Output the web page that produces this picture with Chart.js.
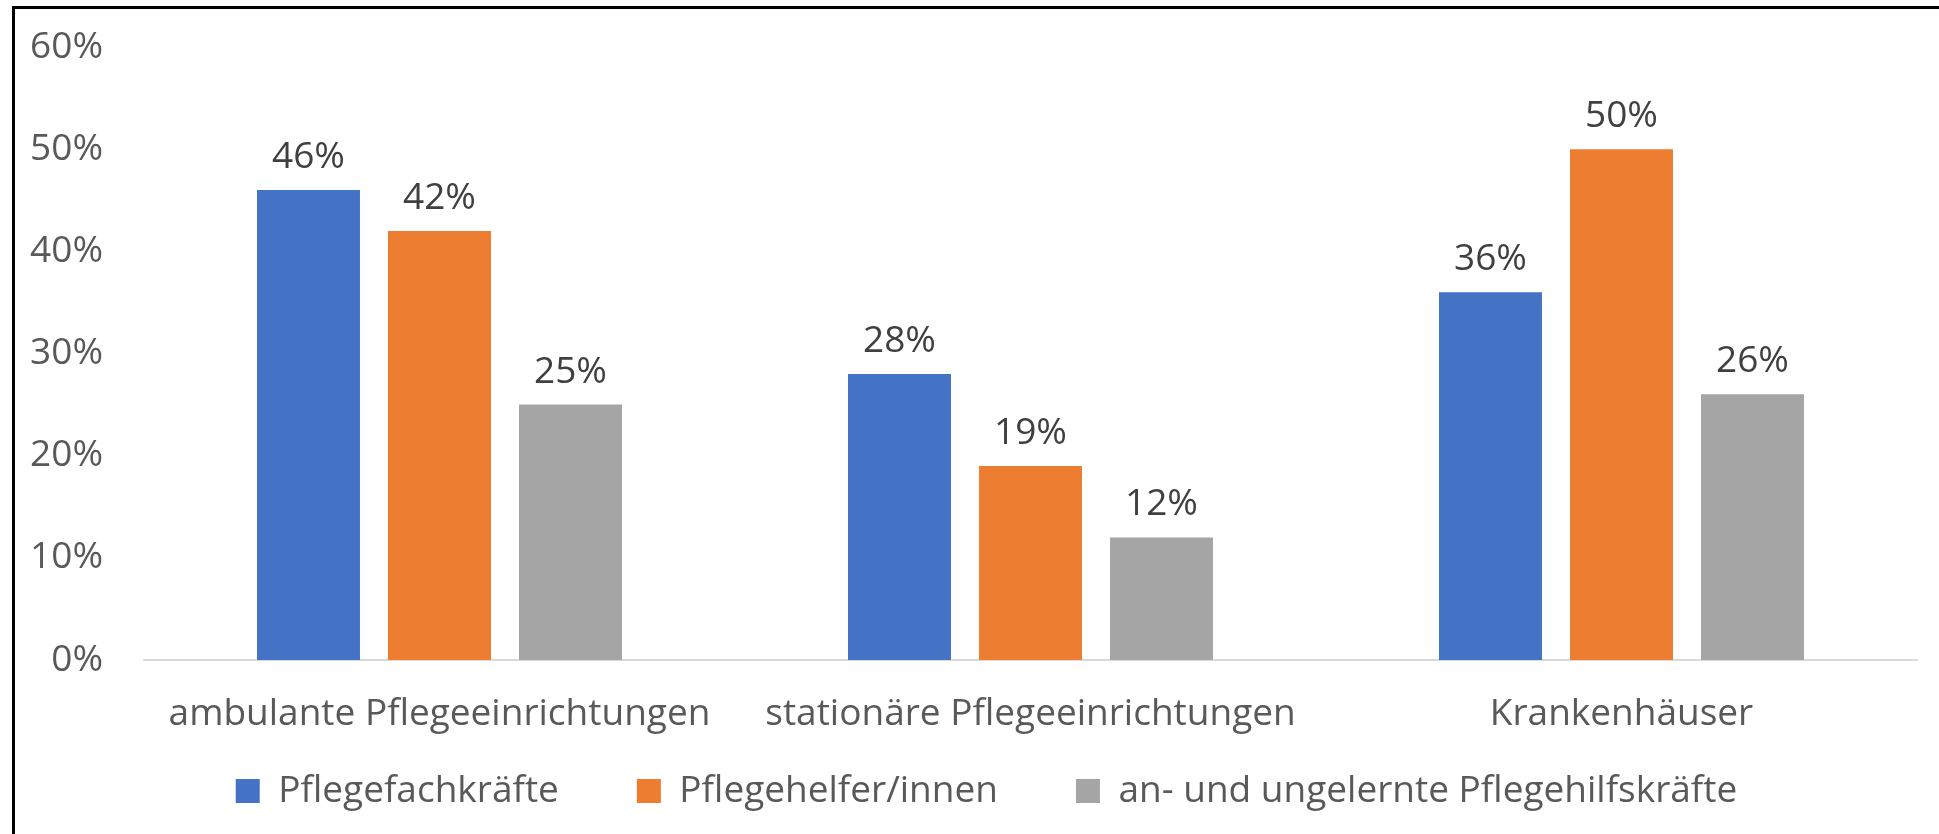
<!DOCTYPE html>
<html>
<head>
<meta charset="utf-8">
<script src="https://cdn.jsdelivr.net/npm/chart.js"></script>
<style>
  html, body { margin: 0; padding: 0; background: #fff; }
  #wrap { position: relative; width: 1939px; height: 834px; overflow: hidden; }
  #frame { position: absolute; left: 12px; top: 6px; width: 2000px; height: 900px;
           border-left: 3px solid #000; border-top: 3px solid #000; pointer-events: none; }
  canvas { position: absolute; left: 0; top: 0; }
</style>
</head>
<body>
<div id="wrap">
  <canvas id="chart" width="1939" height="834"></canvas>
  <div id="frame"></div>
</div>
<script>
// data
const categories = ["ambulante Pflegeeinrichtungen", "stationäre Pflegeeinrichtungen", "Krankenhäuser"];
const fachkraefte = [46, 28, 36];
const helfer = [42, 19, 50];
const hilfskraefte = [25, 12, 26];
const seriesNames = ["Pflegefachkräfte", "Pflegehelfer/innen", "an- und ungelernte Pflegehilfskräfte"];
const yTicks = [0, 10, 20, 30, 40, 50, 60];

const FONT = "'Open Sans', sans-serif";

// value labels above the bars
const barLabels = {
    id: "barLabels",
    afterDatasetsDraw(chart) {
        const ctx = chart.ctx;
        ctx.save();
        ctx.font = "37px " + FONT;
        ctx.fillStyle = "#404040";
        ctx.textAlign = "center";
        ctx.textBaseline = "alphabetic";
        chart.data.datasets.forEach((ds, i) => {
            chart.getDatasetMeta(i).data.forEach((bar, j) => {
                ctx.fillText(ds.data[j] + "%", bar.x, bar.y - 22);
            });
        });
        ctx.restore();
    },
};

// legend is centred on the whole frame, not on the canvas edge
const legendShift = {
    id: "legendShift",
    afterLayout(chart) {
        chart.legend.left = 56;
    },
};

new Chart(document.getElementById("chart"), {
    type: "bar",
    data: {
        labels: categories,
        datasets: [
            { label: seriesNames[0], data: fachkraefte, backgroundColor: "#4472C4" },
            { label: seriesNames[1], data: helfer, backgroundColor: "#ED7D31" },
            { label: seriesNames[2], data: hilfskraefte, backgroundColor: "#A5A5A5" },
        ],
    },
    options: {
        responsive: false,
        animation: false,
        categoryPercentage: 0.665,
        barPercentage: 0.786,
        layout: { padding: { top: 47, left: 0, right: 22, bottom: 14.5 } },
        plugins: {
            tooltip: { enabled: false },
            legend: {
                position: "bottom",
                labels: {
                    font: { family: FONT, size: 37 },
                    color: "#595959",
                    boxWidth: 24,
                    boxHeight: 24,
                    padding: 78,
                },
            },
        },
        scales: {
            x: {
                grid: { display: false, drawTicks: false },
                border: { display: true, color: "#D9D9D9", width: 2 },
                ticks: {
                    font: { family: FONT, size: 37 },
                    color: "#595959",
                    // mirrored so the labels are not clipped to the short axis box
                    mirror: true,
                    padding: -77,
                    maxRotation: 0,
                    autoSkip: false,
                },
                afterFit(scale) { scale.height = 34.5; },
            },
            y: {
                min: 0,
                max: 60,
                afterBuildTicks(scale) { scale.ticks = yTicks.map(v => ({ value: v })); },
                // hidden tick marks give the label gap without padding the top
                grid: { display: false, drawTicks: true, tickLength: 41 },
                border: { display: false },
                ticks: {
                    font: { family: FONT, size: 37 },
                    color: "#595959",
                    padding: 0,
                    callback: v => v + "%",
                },
                afterFit(scale) { scale.width = 144; },
            },
        },
    },
    plugins: [barLabels, legendShift],
});
</script>
</body>
</html>
